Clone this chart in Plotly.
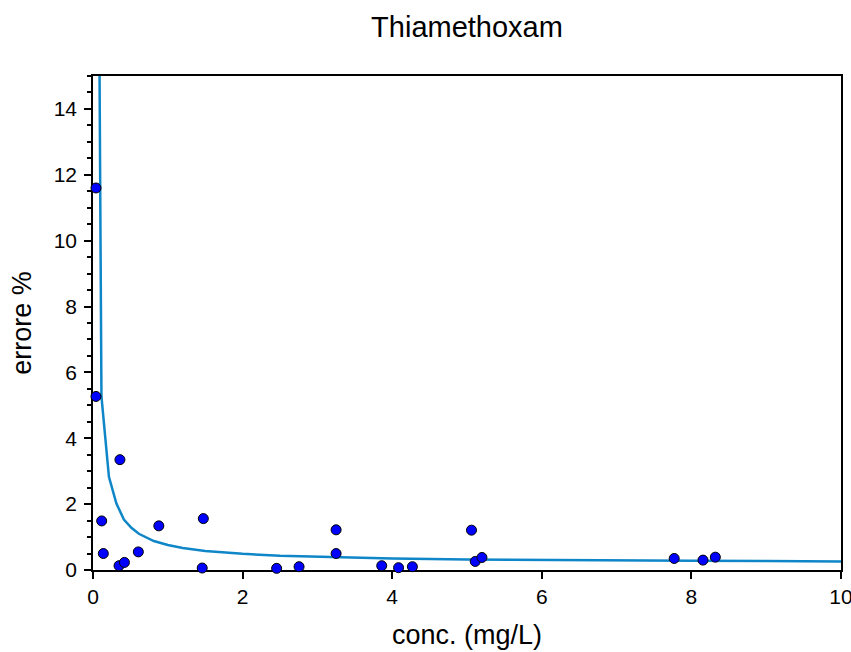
import plotly.graph_objects as go

# Measured relative error (%) vs. concentration (mg/L)
conc = [0.04, 0.04, 0.116, 0.138, 0.348, 0.36, 0.42, 0.606, 0.88, 1.46, 1.475,
        2.455, 2.755, 3.25, 3.25, 3.86, 4.085, 4.27, 5.06, 5.11, 5.20,
        7.77, 8.155, 8.32]
errore = [11.6, 5.27, 1.49, 0.50, 0.13, 3.35, 0.23, 0.55, 1.34, 0.06, 1.56,
          0.05, 0.10, 1.22, 0.50, 0.13, 0.07, 0.10, 1.21, 0.26, 0.38,
          0.35, 0.30, 0.39]

# Fitted error curve, sampled points
fit_x = [0.0125, 0.113, 0.213, 0.313, 0.413, 0.513, 0.613, 0.713, 0.813, 1.0,
         1.2, 1.5, 2.0, 2.5, 3.0, 3.5, 4.0, 5.0, 6.0, 7.0, 8.0, 9.0, 10.0]
fit_y = [44.0, 5.27, 2.83, 2.02, 1.53, 1.28, 1.10, 0.98, 0.88, 0.76,
         0.67, 0.58, 0.49, 0.43, 0.40, 0.37, 0.35, 0.32, 0.30, 0.29, 0.28, 0.27, 0.26]

x_ticks = [0, 2, 4, 6, 8, 10]
y_ticks = [0, 2, 4, 6, 8, 10, 12, 14]

FONT = "Liberation Sans, Arial, sans-serif"

fig = go.Figure()
fig.add_trace(go.Scatter(
    x=fit_x, y=fit_y, mode="lines",
    line=dict(color="#0f86c8", width=2.5),
    hoverinfo="skip", showlegend=False,
))
fig.add_trace(go.Scatter(
    x=conc, y=errore, mode="markers",
    marker=dict(size=10, color="#0000ff", line=dict(color="black", width=1)),
    cliponaxis=False, showlegend=False,
))

axis_common = dict(
    showgrid=False, zeroline=False, automargin=False,
    showline=True, linecolor="black", linewidth=1.5, mirror=True,
    ticks="outside", ticklen=7, tickwidth=1.5, tickcolor="black",
    tickfont=dict(family=FONT, size=21, color="black"),
    ticklabeloverflow="allow",
    layer="below traces",
)

fig.update_layout(
    width=851, height=652,
    margin=dict(l=93, r=10, t=76, b=82),
    paper_bgcolor="white", plot_bgcolor="white",
    title=dict(text="Thiamethoxam", x=0.5, xref="paper",
               y=1 - 27 / 652, yref="container", yanchor="middle",
               font=dict(family=FONT, size=29, color="black")),
    xaxis=dict(range=[0, 10], tickvals=x_ticks,
               title=dict(text="conc. (mg/L)", standoff=18,
                          font=dict(family=FONT, size=27, color="black")),
               **axis_common),
    yaxis=dict(range=[0, 15], tickvals=y_ticks, ticklabelstandoff=3,
               minor=dict(dtick=0.5, ticks="outside", ticklen=4,
                          tickwidth=1.5, tickcolor="black", showgrid=False),
               title=dict(text="errore %", standoff=14,
                          font=dict(family=FONT, size=27, color="black")),
               **axis_common),
)

fig.write_html("out.html")
